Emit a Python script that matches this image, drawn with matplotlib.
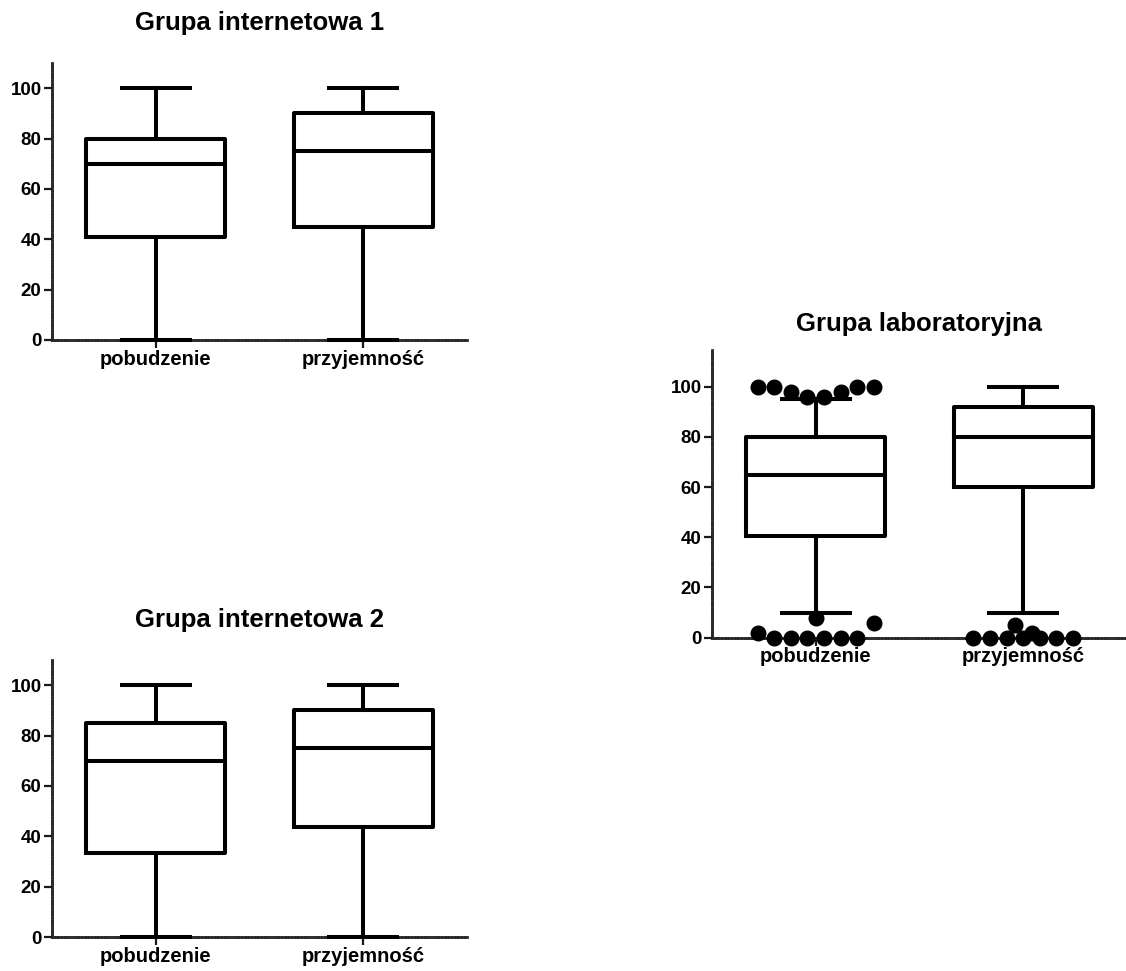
import matplotlib
matplotlib.use("Agg")
import matplotlib.pyplot as plt

plt.rcParams["font.family"] = ["Liberation Sans", "DejaVu Sans"]
plt.rcParams["font.weight"] = "bold"

categories = ["pobudzenie", "przyjemność"]

# Grupa internetowa 1: five-number summaries per category
int1_low = [0, 0]
int1_q1 = [41, 45]
int1_med = [70, 75]
int1_q3 = [80, 90]
int1_high = [100, 100]

# Grupa internetowa 2
int2_low = [0, 0]
int2_q1 = [33.5, 43.5]
int2_med = [70, 75]
int2_q3 = [85, 90]
int2_high = [100, 100]

# Grupa laboratoryjna (Tukey whiskers, outliers shown as points)
lab_low = [10, 10]
lab_q1 = [40.5, 60]
lab_med = [65, 80]
lab_q3 = [80, 92]
lab_high = [95, 100]

# Outliers grouped into the horizontal rows in which they are spread
lab_outlier_rows_pobudzenie = [
    [100, 100, 98, 96, 96, 98, 100, 100],
    [2, 0, 0, 0, 0, 0, 0, 6],
    [8],
]
lab_outlier_rows_przyjemnosc = [
    [0, 0, 0, 0, 0, 0, 0],
    [5, 2],
]

FIG_W, FIG_H = 1126, 971
LW = 2.9
SWARM_STEP = 0.08
AXIS_COLOR = "#2b2b2b"


def box_stats(low, q1, med, q3, high):
    return [dict(whislo=a, q1=b, med=c, q3=d, whishi=e, fliers=[])
            for a, b, c, d, e in zip(low, q1, med, q3, high)]


def px_axes(fig, left, right, y0, ytop):
    return fig.add_axes([left / FIG_W, (FIG_H - y0) / FIG_H,
                         (right - left) / FIG_W, (y0 - ytop) / FIG_H])


def style_axes(ax, title, ymax, title_pad):
    ax.set_xlim(-0.5, 1.5)
    ax.set_ylim(0, ymax)
    ax.set_yticks(range(0, 101, 20))
    ax.set_xticks(range(len(categories)))
    ax.set_xticklabels(categories, fontsize=14.5, fontweight="bold")
    for lab in ax.get_yticklabels():
        lab.set_fontsize(13.5)
        lab.set_fontweight("bold")
    for side in ("top", "right"):
        ax.spines[side].set_visible(False)
    for side in ("left", "bottom"):
        sp = ax.spines[side]
        sp.set_linewidth(2.0)
        sp.set_color(AXIS_COLOR)
        sp.set_linestyle((0, (0.8, 0.4)))
        sp.set_zorder(1)
    ax.tick_params(axis="y", direction="out", length=6, width=1.6, pad=1.5,
                   color="#1a1a1a")
    ax.tick_params(axis="x", direction="out", length=6, width=1.6, pad=1,
                   color="#1a1a1a")
    ax.set_title(title, fontsize=18.5, fontweight="bold", pad=title_pad)
    ax.patch.set_visible(False)


def draw_boxes(ax, stats):
    line = dict(color="black", linewidth=LW, solid_capstyle="projecting")
    art = ax.bxp(stats, positions=range(len(stats)), widths=0.67,
                 showfliers=False, boxprops=line, whiskerprops=line,
                 capprops=line, medianprops=line, capwidths=0.33,
                 manage_ticks=False)
    for group in art.values():
        for a in group:
            a.set_clip_on(False)
            a.set_zorder(3)


def draw_outliers(ax, pos, rows):
    for row in rows:
        n = len(row)
        xs = [pos + (i - (n - 1) / 2) * SWARM_STEP for i in range(n)]
        ax.plot(xs, row, "o", color="black", markersize=10.5, clip_on=False,
                zorder=4, linestyle="none")


fig = plt.figure(figsize=(FIG_W / 100, FIG_H / 100), dpi=100)

ax1 = px_axes(fig, 52, 467, 340, 63)
draw_boxes(ax1, box_stats(int1_low, int1_q1, int1_med, int1_q3, int1_high))
style_axes(ax1, "Grupa internetowa 1", 110, 24)

ax2 = px_axes(fig, 52, 467, 937, 660)
draw_boxes(ax2, box_stats(int2_low, int2_q1, int2_med, int2_q3, int2_high))
style_axes(ax2, "Grupa internetowa 2", 110, 24)

ax3 = px_axes(fig, 712, 1127, 637.7, 350)
draw_boxes(ax3, box_stats(lab_low, lab_q1, lab_med, lab_q3, lab_high))
draw_outliers(ax3, 0, lab_outlier_rows_pobudzenie)
draw_outliers(ax3, 1, lab_outlier_rows_przyjemnosc)
style_axes(ax3, "Grupa laboratoryjna", 114.6, 14)

fig.savefig("out.png", dpi=100, facecolor="white")
